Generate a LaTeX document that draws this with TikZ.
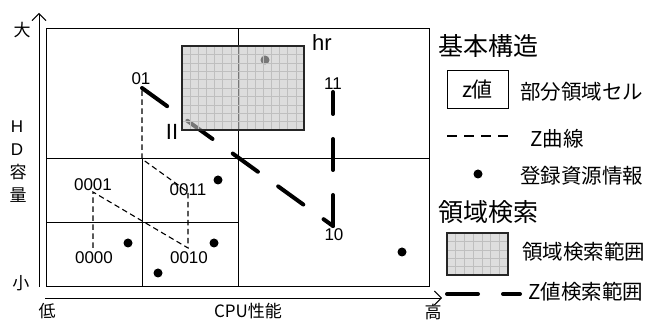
\documentclass[tikz,border=0pt]{standalone}
\usepackage{fontspec}
\setmainfont{Liberation Sans}
\newfontfamily\jp{Noto Sans CJK JP}
\usetikzlibrary{arrows.meta}
\begin{document}
\begin{tikzpicture}[x=1pt,y=-1pt,
  lbl/.style={font=\fontsize{17}{17}\selectfont, inner sep=0pt},
  jlbl/.style={font=\jp\fontsize{17}{17}\selectfont, inner sep=0pt},
  headtxt/.style={font=\jp\fontsize{25}{25}\selectfont, inner sep=0pt, anchor=west},
  legtxt/.style={font=\jp\fontsize{20.5}{20.5}\selectfont, inner sep=0pt, anchor=west},
  cellline/.style={line width=1pt, draw=black},
  zcurve/.style={line width=1.1pt, dash pattern=on 5.5pt off 3.5pt},
  zleg/.style={line width=1.1pt, dash pattern=on 10pt off 7pt},
  zsearch/.style={line width=4pt, dash pattern=on 31pt off 25pt, line cap=round},
  res/.style={circle, fill=black, inner sep=0pt, minimum size=9pt},
  areafill/.style={fill=black!22, fill opacity=0.6},
  areaborder/.style={draw=black!85, line width=1.2pt},
  gridline/.style={draw=black!25, line width=0.5pt},
  axis/.style={line width=0.9pt, -{Straight Barb[length=7pt,width=14pt]}}
]
\path[use as bounding box] (0,0) rectangle (646,320);

% named points
\coordinate (yb) at (39,287);
\coordinate (yt) at (39,13);
\coordinate (xl) at (45,298);
\coordinate (xr) at (442,298);
\coordinate (p0000) at (93,248);
\coordinate (p0001) at (93,192);
\coordinate (p0010) at (188,248);
\coordinate (p0011) at (188,192);
\coordinate (bend) at (142,159);
\coordinate (p01) at (142,88);
\coordinate (p10) at (333,226);
\coordinate (p11) at (333,92);

% axes
\draw[axis] (yb) -- (yt);
\draw[axis] (xl) -- (xr);
\node[jlbl] (big) at (22,30) {大};
\node[jlbl] (small) at (21,283) {小};
\node[jlbl] (low) at (47,311) {低};
\node[jlbl] (high) at (433,312) {高};
\node[jlbl] (cpu) at (248,311) {CPU性能};
\node[lbl] (hH) at (17,127) {H};
\node[lbl] (hD) at (17,150) {D};
\node[jlbl] (hY) at (18,172) {容};
\node[jlbl] (hR) at (18,195) {量};

% cells
\draw[cellline] (46,29) rectangle (429,287);
\draw[cellline] (238,29) -- (238,287);
\draw[cellline] (46,159) -- (429,159);
\draw[cellline] (142,159) -- (142,287);
\draw[cellline] (46,223) -- (238,223);

% resources
\node[res] (r1) at (128,243) {};
\node[res] (r2) at (158,273) {};
\node[res] (r3) at (214,243) {};
\node[res] (r4) at (218,180) {};
\node[res] (r5) at (402,252) {};
\node[res] (r6) at (265,60) {};

% Z curve
\draw[zcurve] (p0000) -- (p0001) -- (p0010) -- (p0011) -- (bend) -- (p01);

% Z-value search range
\draw[zsearch] (p01) -- (p10);
\draw[zsearch] (p10) -- (p11);

% area search range
\fill[areafill] (182,46) rectangle (304,130);
\foreach \i in {1,...,14} \draw[gridline] ({182+\i*122/15},46) -- ({182+\i*122/15},130);
\foreach \j in {1,...,9} \draw[gridline] (182,{46+\j*8.4}) -- (304,{46+\j*8.4});
\draw[areaborder] (182,46) rectangle (304,130);
\node[lbl, font=\fontsize{22}{22}\selectfont] (hr) at (322,43) {hr};

% z labels
\node[lbl] (l01) at (141,79) {01};
\node[lbl] (l11) at (333,84) {11};
\node[lbl] (l10) at (334,235) {10};
\node[lbl] (l0001) at (93,185) {0001};
\node[lbl] (l0011) at (188,190) {0011};
\node[lbl] (l0000) at (94,258) {0000};
\node[lbl] (l0010) at (189,258) {0010};
\node[lbl, font=\fontsize{22}{22}\selectfont] (ll) at (172,132) {II};

% legend
\node[headtxt] (h1) at (438,46) {基本構造};
\node[draw, line width=1pt, minimum width=61pt, minimum height=38pt, inner sep=0pt,
      font=\jp\fontsize{21}{21}\selectfont] (zbox) at (477.5,90) {z値};
\node[legtxt] (t1) at (520,92) {部分領域セル};
\coordinate (d1a) at (447,136);
\coordinate (d1b) at (508,136);
\draw[zleg] (d1a) -- (d1b);
\node[legtxt] (t2) at (530,139) {Z曲線};
\node[res] (rleg) at (478,174) {};
\node[legtxt] (t3) at (520,176) {登録資源情報};
\node[headtxt] (h2) at (438,212) {領域検索};
\fill[black!13] (447,233) rectangle (508,275);
\foreach \i in {1,...,6} \draw[gridline] ({447+\i*61/7},233) -- ({447+\i*61/7},275);
\foreach \j in {1,...,4} \draw[gridline] (447,{233+\j*8.4}) -- (508,{233+\j*8.4});
\draw[areaborder] (447,233) rectangle (508,275);
\node[legtxt] (t4) at (522,252) {領域検索範囲};
\coordinate (d2a) at (447,294);
\coordinate (d2b) at (520,294);
\draw[zsearch] (d2a) -- (d2b);
\node[legtxt] (t5) at (528,292) {Z値検索範囲};
\end{tikzpicture}
\end{document}
